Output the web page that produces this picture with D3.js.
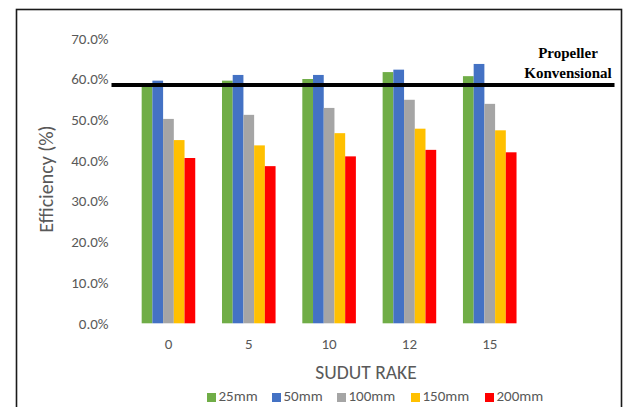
<!DOCTYPE html>
<html>
<head>
<meta charset="utf-8">
<script src="https://cdn.jsdelivr.net/npm/d3@7"></script>
<style>
  html, body { margin: 0; padding: 0; background: #fff; }
  svg { display: block; }
</style>
</head>
<body>
<svg id="chart" width="625" height="407"></svg>
<script>
// Rake angles (x categories)
const categories = ["0", "5", "10", "12", "15"];
// Series names (propeller size)
const seriesNames = ["25mm", "50mm", "100mm", "150mm", "200mm"];
const seriesColors = ["#70AD47", "#4472C4", "#A5A5A5", "#FFC000", "#FF0000"];
// Efficiency values per series, one per rake angle
const eff25 = [0.583, 0.596, 0.600, 0.617, 0.607];
const eff50 = [0.596, 0.610, 0.610, 0.623, 0.637];
const eff100 = [0.502, 0.512, 0.529, 0.549, 0.539];
const eff150 = [0.450, 0.437, 0.467, 0.478, 0.474];
const eff200 = [0.406, 0.386, 0.410, 0.426, 0.420];
const seriesValues = [eff25, eff50, eff100, eff150, eff200];
// Reference line: conventional propeller
const conventionalEff = 0.585;
const yTicks = [0, 0.1, 0.2, 0.3, 0.4, 0.5, 0.6, 0.7];

const svg = d3.select("#chart");
const textColor = "#595959";
const sansFont = "Carlito, 'Open Sans', 'Noto Sans', sans-serif";

// Outer frame
svg.append("rect")
  .attr("x", 16.5).attr("y", 9.5)
  .attr("width", 605).attr("height", 420)
  .attr("fill", "none").attr("stroke", "#1a1a1a").attr("stroke-width", 1.6);

const y = d3.scaleLinear().domain([0, 0.7]).range([323.3, 38.3]);
const x0 = d3.scaleBand().domain(categories).range([128.3, 529.9])
  .paddingInner(0.333).paddingOuter(0.1665);
const x1 = d3.scaleBand().domain(seriesNames).range([0, x0.bandwidth()]);

// Y axis labels
const fmt = d3.format(".1%");
const yAxis = d3.axisLeft(y).tickValues(yTicks).tickFormat(fmt).tickSize(0).tickPadding(0);
const yg = svg.append("g").attr("transform", "translate(108.5,0)").call(yAxis);
yg.select(".domain").remove();
yg.selectAll("text").attr("fill", textColor)
  .style("font-family", sansFont).style("font-size", "15px");

// X axis labels
const xAxis = d3.axisBottom(x0).tickSize(0).tickPadding(0);
const xg = svg.append("g").attr("transform", "translate(0,338)").call(xAxis);
xg.select(".domain").remove();
xg.selectAll("text").attr("fill", textColor)
  .style("font-family", sansFont).style("font-size", "15px");

// Bars
const groups = svg.append("g").selectAll("g")
  .data(categories)
  .join("g")
  .attr("transform", d => `translate(${x0(d)},0)`);

groups.selectAll("rect")
  .data((c, ci) => seriesNames.map((s, si) => ({ s, si, v: seriesValues[si][ci] })))
  .join("rect")
  .attr("x", d => x1(d.s))
  .attr("y", d => y(d.v))
  .attr("width", x1.bandwidth())
  .attr("height", d => y(0) - y(d.v))
  .attr("fill", d => seriesColors[d.si]);

// Conventional propeller reference line
svg.append("line")
  .attr("x1", 111.5).attr("x2", 614.5)
  .attr("y1", y(conventionalEff)).attr("y2", y(conventionalEff))
  .attr("stroke", "#000").attr("stroke-width", 4);

const refLabel = svg.append("text")
  .attr("text-anchor", "middle")
  .style("font-family", "'Liberation Serif', 'Times New Roman', serif")
  .style("font-weight", "bold").style("font-size", "15px")
  .attr("fill", "#000");
refLabel.append("tspan").attr("x", 568).attr("y", 58).text("Propeller");
refLabel.append("tspan").attr("x", 568).attr("y", 78).text("Konvensional");

// Axis titles
svg.append("text")
  .attr("transform", "translate(53,179) rotate(-90)")
  .attr("text-anchor", "middle")
  .attr("fill", textColor)
  .style("font-family", sansFont).style("font-size", "20px")
  .text("Efficiency (%)");

svg.append("text")
  .attr("x", 366).attr("y", 379)
  .attr("text-anchor", "middle")
  .attr("fill", textColor)
  .style("font-family", sansFont).style("font-size", "19.5px")
  .text("SUDUT RAKE");

// Legend
const legendX = [207, 272, 337, 411, 485];
const legend = svg.append("g").selectAll("g")
  .data(seriesNames)
  .join("g")
  .attr("transform", (d, i) => `translate(${legendX[i]},393)`);
legend.append("rect")
  .attr("width", 9).attr("height", 9)
  .attr("fill", (d, i) => seriesColors[i]);
legend.append("text")
  .attr("x", 11.5).attr("y", 8)
  .attr("fill", textColor)
  .style("font-family", sansFont).style("font-size", "15px")
  .text(d => d);
</script>
</body>
</html>
